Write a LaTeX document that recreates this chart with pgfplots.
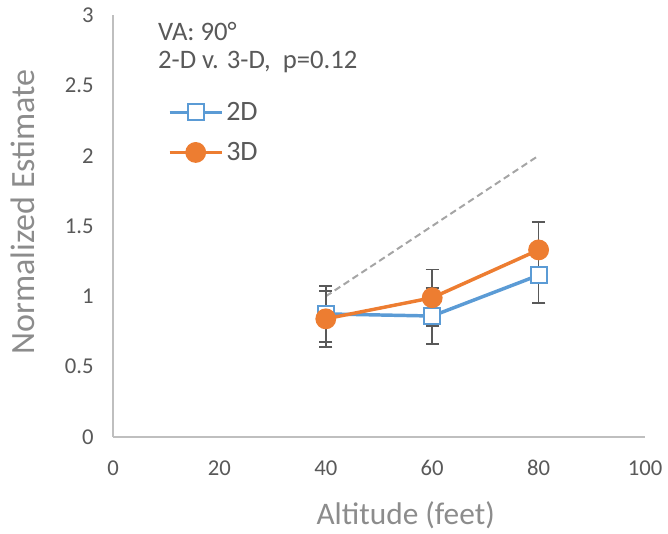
\documentclass[border=0pt]{standalone}
\usepackage{pgfplots}
\pgfplotsset{compat=1.18}
\usepackage{fontspec}
\setmainfont{Carlito}
\definecolor{cblue}{HTML}{5B9BD5}
\definecolor{corange}{HTML}{ED7D31}
\definecolor{tickgray}{HTML}{595959}
\definecolor{axgray}{HTML}{BFBFBF}
\definecolor{labgray}{HTML}{8C8C8C}
\definecolor{dashgray}{HTML}{A5A5A5}
\begin{document}
\begin{tikzpicture}
\begin{axis}[
  scale only axis,
  width=399pt, height=316.5pt,
  xmin=0, xmax=100, ymin=0, ymax=3,
  xtick={0,20,40,60,80,100},
  ytick={0,0.5,1,1.5,2,2.5,3},
  axis x line*=bottom, axis y line*=left,
  axis line style={axgray, line width=1.2pt},
  x axis line style={-}, y axis line style={-},
  tick style={draw=none},
  tick label style={font=\fontsize{17}{19}\selectfont, text=tickgray},
  /pgf/number format/assume math mode=true,
  xticklabel style={yshift=-14pt},
  yticklabel style={xshift=-11pt},
  xlabel={Altitude (feet)},
  ylabel={Normalized Estimate},
  label style={text=labgray},
  xlabel style={font=\fontsize{23.5}{26}\selectfont, at={(rel axis cs:0.5,0)}, anchor=center, yshift=-58.5pt, xshift=20pt},
  ylabel style={font=\fontsize{25.5}{28}\selectfont, at={(rel axis cs:0,0.5)}, anchor=center, yshift=68pt, xshift=10.5pt},
  legend style={draw=none, fill=none, at={(axis cs:9.5,2.42)}, anchor=north west,
    font=\fontsize{21}{23}\selectfont, text=tickgray, row sep=11pt},
  legend cell align=left,
  legend image code/.code={
    \draw[#1, mark=none] (0cm,0cm) -- (1.38cm,0cm);
    \draw[#1, only marks] plot coordinates {(0.69cm,0cm)};
  },
  clip=false,
]
\addplot[dashgray, dashed, line width=1.5pt, dash pattern=on 5pt off 3pt, forget plot] coordinates {(40,1) (80,2)};
\addplot[cblue, line width=2.6pt, mark=square*, mark size=6pt,
  mark options={fill=white, draw=cblue, line width=1.4pt, solid},
  error bars/.cd, y dir=both, y explicit,
  error bar style={tickgray, line width=1.3pt},
  error mark options={rotate=90, mark size=5pt, tickgray, line width=1.3pt}]
  coordinates {(40,0.875) +- (0,0.2) (60,0.86) +- (0,0.2) (80,1.15) +- (0,0.2)};
\addlegendentry{2D}
\addplot[corange, line width=2.6pt, mark=*, mark size=6.5pt,
  mark options={fill=corange, draw=corange, solid},
  error bars/.cd, y dir=both, y explicit,
  error bar style={tickgray, line width=1.3pt},
  error mark options={rotate=90, mark size=5pt, tickgray, line width=1.3pt}]
  coordinates {(40,0.84) +- (0,0.2) (60,0.99) +- (0,0.2) (80,1.33) +- (0,0.2)};
\addlegendentry{3D}
\node[anchor=west, text=tickgray, font=\fontsize{20}{22}\selectfont] at (axis cs:7.6,2.88) {VA: 90°};
\node[anchor=west, text=tickgray, font=\fontsize{20}{22}\selectfont] at (axis cs:7.6,2.665) {2-D v. 3-D,\ \ p=0.12};
\path (rel axis cs:0,0) ++(-84.75pt,-69pt) coordinate (bl);
\path (rel axis cs:0,0) ++(416.25pt,327.75pt) coordinate (tr);
\path[use as bounding box] (bl) rectangle (tr);
\end{axis}
\end{tikzpicture}
\end{document}
